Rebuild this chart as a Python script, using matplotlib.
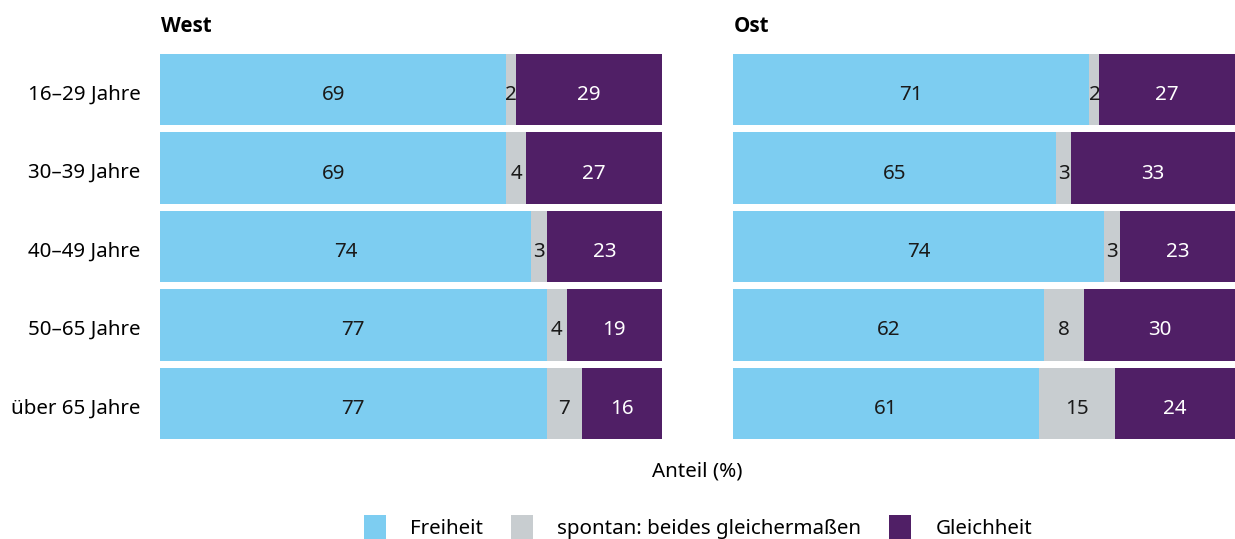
import matplotlib
matplotlib.use('Agg')
import matplotlib.pyplot as plt
from matplotlib.patches import Patch
import numpy as np

plt.rcParams['font.family'] = ['Noto Sans', 'DejaVu Sans']

# Data
groups = ["16–29 Jahre", "30–39 Jahre", "40–49 Jahre", "50–65 Jahre", "über 65 Jahre"]
series_names = ["Freiheit", "spontan: beides gleichermaßen", "Gleichheit"]
west_freiheit = [69, 69, 74, 77, 77]
west_beides = [2, 4, 3, 4, 7]
west_gleichheit = [29, 27, 23, 19, 16]
ost_freiheit = [71, 65, 74, 62, 61]
ost_beides = [2, 3, 3, 8, 15]
ost_gleichheit = [27, 33, 23, 30, 24]

colors = ["#7dcdf1", "#c8cdd0", "#501f66"]
text_colors = ["#1a1a1a", "#1a1a1a", "white"]
fs = 14.8

W, H = 1235, 539
fig = plt.figure(figsize=(W / 100, H / 100), dpi=100)

bottom = 1 - 439 / H
top = 1 - 54 / H
ax_w = fig.add_axes([160 / W, bottom, 502 / W, top - bottom])
ax_o = fig.add_axes([733 / W, bottom, 502 / W, top - bottom])

bar_h = 0.91
y = np.arange(len(groups))

def draw_panel(ax, series, title, x_title):
    data = np.array(series, dtype=float)
    totals = data.sum(axis=0)
    shares = data / totals * 100
    left = np.zeros(len(groups))
    for i, vals in enumerate(shares):
        ax.barh(y, vals, left=left, height=bar_h, color=colors[i], linewidth=0)
        for j, v in enumerate(vals):
            ax.text(left[j] + v / 2, y[j] + 0.07, f"{int(data[i][j])}",
                    ha='center', va='center', fontsize=fs, color=text_colors[i])
        left += vals
    ax.set_xlim(0, 100)
    ax.set_ylim(len(groups) - 1 + bar_h / 2, -bar_h / 2)
    for s in ax.spines.values():
        s.set_visible(False)
    ax.set_xticks([])
    ax.tick_params(axis='y', length=0, pad=14, labelsize=fs)
    fig.text(x_title / W, 1 - 27 / H, title, fontsize=fs, fontweight='bold',
             family=['Open Sans', 'DejaVu Sans'], ha='left', va='center')

draw_panel(ax_w, [west_freiheit, west_beides, west_gleichheit], "West", 161)
draw_panel(ax_o, [ost_freiheit, ost_beides, ost_gleichheit], "Ost", 734)
ax_w.set_yticks(y + 0.03)
ax_w.set_yticklabels(groups)
ax_o.set_yticks([])

fig.text(697.5 / W, 1 - 472 / H, "Anteil (%)", fontsize=fs, ha='center', va='center')

handles = [Patch(facecolor=c, edgecolor='none') for c in colors]
fig.legend(handles, series_names, loc='center', bbox_to_anchor=(698 / W, 1 - 527 / H),
           ncol=3, frameon=False, fontsize=fs, handlelength=1.07, handleheight=1.45,
           handletextpad=1.17, columnspacing=1.37, borderpad=0)

fig.savefig("out.png", dpi=100)
